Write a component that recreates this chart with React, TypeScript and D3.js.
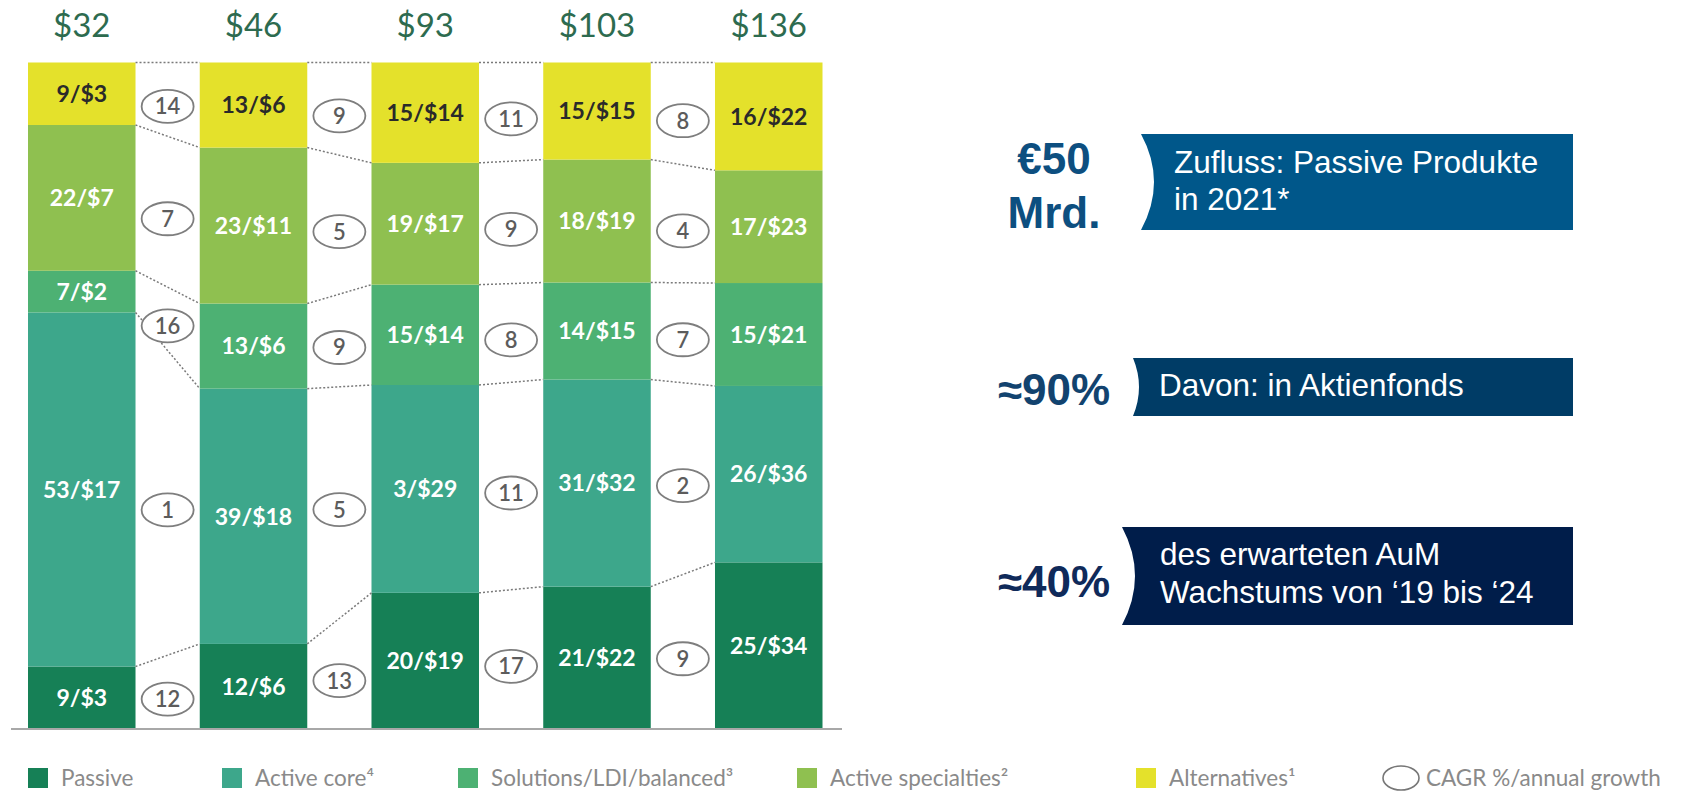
import React from "react";
import * as d3 from "d3";

// bars, bottom segment first
const totalLabels = ["$32", "$46", "$93", "$103", "$136"];
const seriesKeys = ["passive", "activeCore", "solutions", "activeSpec", "alternatives"];
const legendLabels = ["Passive", "Active core⁴", "Solutions/LDI/balanced³", "Active specialties²", "Alternatives¹"];
const seriesColors = ["#168056", "#3da78b", "#4db173", "#8fc050", "#e4e12b"];

// $ bn per segment (drives heights)
const passiveUsd = [3, 6, 19, 22, 34];
const activeCoreUsd = [17, 18, 29, 32, 36];
const solutionsUsd = [2, 6, 14, 15, 21];
const activeSpecUsd = [7, 11, 17, 19, 23];
const alternativesUsd = [3, 6, 14, 15, 22];

// share in % as printed on the segments
const passivePct = [9, 12, 20, 21, 25];
const activeCorePct = [53, 39, 3, 31, 26];
const solutionsPct = [7, 13, 15, 14, 15];
const activeSpecPct = [22, 23, 19, 18, 17];
const alternativesPct = [9, 13, 15, 15, 16];

// CAGR between neighbouring bars
const passiveCagr = [12, 13, 17, 9];
const activeCoreCagr = [1, 5, 11, 2];
const solutionsCagr = [16, 9, 8, 7];
const activeSpecCagr = [7, 5, 9, 4];
const alternativesCagr = [14, 9, 11, 8];

const cagrLegend = "CAGR %/annual growth";

const calloutValues = [["€50", "Mrd."], ["≈90%"], ["≈40%"]];
const calloutTexts = [
  ["Zufluss: Passive Produkte", "in 2021*"],
  ["Davon: in Aktienfonds"],
  ["des erwarteten AuM", "Wachstums von ‘19 bis ‘24"],
];

const usd = [passiveUsd, activeCoreUsd, solutionsUsd, activeSpecUsd, alternativesUsd];
const pct = [passivePct, activeCorePct, solutionsPct, activeSpecPct, alternativesPct];
const cagr = [passiveCagr, activeCoreCagr, solutionsCagr, activeSpecCagr, alternativesCagr];

const W = 1689, H = 794;
const condensed = "Lato, 'Open Sans', sans-serif";
const arial = "'Liberation Sans', Arial, sans-serif";

// callout boxes on the right
const boxes = [
  { top: 134, bottom: 230, left: 1141, bulge: 13, fill: "#00578a", num: "#0d4f80", textX: 1174, lines: [173, 210], nums: [174, 228] },
  { top: 358, bottom: 416, left: 1133, bulge: 6, fill: "#003c66", num: "#12436f", textX: 1159, lines: [396], nums: [405] },
  { top: 527, bottom: 625, left: 1122, bulge: 13, fill: "#001d4a", num: "#0f2a5a", textX: 1160, lines: [565, 603], nums: [597] },
];
const boxRight = 1573;

export default function App() {
  const rows = totalLabels.map((t, i) => {
    const r: any = { key: t };
    seriesKeys.forEach((k, j) => (r[k] = usd[j][i]));
    return r;
  });
  const stacked = d3.stack<any>().keys(seriesKeys).offset(d3.stackOffsetExpand)(rows);

  const x = d3.scaleBand().domain(totalLabels).range([28, 822.5]).paddingInner(0.374).paddingOuter(0);
  const y = d3.scaleLinear().domain([0, 1]).range([729, 62.5]);
  const bw = x.bandwidth();
  const mid = (d: any) => y((d[0] + d[1]) / 2);

  const gaps = d3.range(totalLabels.length - 1);

  return (
    <svg width={W} height={H} style={{ position: "absolute", left: 0, top: 0, background: "#fff" }}>
      {/* totals */}
      {totalLabels.map((t) => (
        <text key={t} x={x(t)! + bw / 2} y={37} textAnchor="middle" fontFamily={condensed} fontSize={33} fill="#2d6b4f">
          {t}
        </text>
      ))}

      {/* segments */}
      {stacked.map((s, j) => (
        <g key={s.key}>
          {s.map((d, i) => (
            <g key={i}>
              <rect x={x(totalLabels[i])} y={y(d[1])} width={bw} height={y(d[0]) - y(d[1])} fill={seriesColors[j]} />
              <text
                x={x(totalLabels[i])! + bw / 2}
                y={mid(d)}
                dy="0.36em"
                textAnchor="middle"
                fontFamily={condensed}
                fontWeight={700}
                fontSize={23}
                fill={j === 4 ? "#2a2a2a" : "#ffffff"}
              >
                {`${pct[j][i]}/$${usd[j][i]}`}
              </text>
            </g>
          ))}
        </g>
      ))}

      {/* dotted connectors */}
      {gaps.map((i) => {
        const x0 = x(totalLabels[i])! + bw;
        const x1 = x(totalLabels[i + 1])!;
        const ys = [[y(1), y(1)], ...stacked.slice(0, 4).map((s) => [y(s[i][1]), y(s[i + 1][1])])];
        return ys.map(([a, b], k) => (
          <line key={`c${i}-${k}`} x1={x0} y1={a} x2={x1} y2={b} stroke="#7a7a7a" strokeWidth={1.5} strokeDasharray="2 2" />
        ));
      })}

      {/* CAGR bubbles */}
      {gaps.map((i) => {
        const cx = (x(totalLabels[i])! + bw + x(totalLabels[i + 1])!) / 2;
        return stacked.map((s, j) => {
          const cy = (mid(s[i]) + mid(s[i + 1])) / 2 + 7;
          return (
            <g key={`b${i}-${j}`}>
              <ellipse cx={cx} cy={cy} rx={26} ry={16.5} fill="#fff" stroke="#7e7e7e" strokeWidth={1.8} />
              <text x={cx} y={cy} dy="0.36em" textAnchor="middle" fontFamily={condensed} fontWeight={600} fontSize={22} fill="#5c5c5c">
                {cagr[j][i]}
              </text>
            </g>
          );
        });
      })}

      <line x1={11} x2={842} y1={729} y2={729} stroke="#a8a8a8" strokeWidth={2} />

      {/* legend */}
      {legendLabels.map((l, j) => {
        const lx = [28, 222, 458, 797, 1136][j];
        return (
          <g key={l}>
            <rect x={lx} y={768} width={20} height={20} fill={seriesColors[j]} />
            <text x={lx + 33} y={778} dy="0.36em" fontFamily={condensed} fontSize={22.5} fill="#8a8a8a">
              {l}
            </text>
          </g>
        );
      })}
      <ellipse cx={1401} cy={778} rx={18} ry={12} fill="none" stroke="#777" strokeWidth={1.6} />
      <text x={1426} y={778} dy="0.36em" fontFamily={condensed} fontSize={22.5} fill="#8a8a8a">
        {cagrLegend}
      </text>

      {/* callouts */}
      {boxes.map((b, k) => {
        const m = (b.top + b.bottom) / 2;
        const path = `M${b.left},${b.top} L${boxRight},${b.top} L${boxRight},${b.bottom} L${b.left},${b.bottom} Q${b.left + 2 * b.bulge},${m} ${b.left},${b.top} Z`;
        return (
          <g key={k}>
            <path d={path} fill={b.fill} />
            {calloutTexts[k].map((t, n) => (
              <text key={n} x={b.textX} y={b.lines[n]} fontFamily={arial} fontSize={31.5} fill="#fff">
                {t}
              </text>
            ))}
            {calloutValues[k].map((t, n) => (
              <text key={`v${n}`} x={1054} y={b.nums[n]} textAnchor="middle" fontFamily={arial} fontWeight={700} fontSize={44} fill={b.num}>
                {t}
              </text>
            ))}
          </g>
        );
      })}
    </svg>
  );
}
